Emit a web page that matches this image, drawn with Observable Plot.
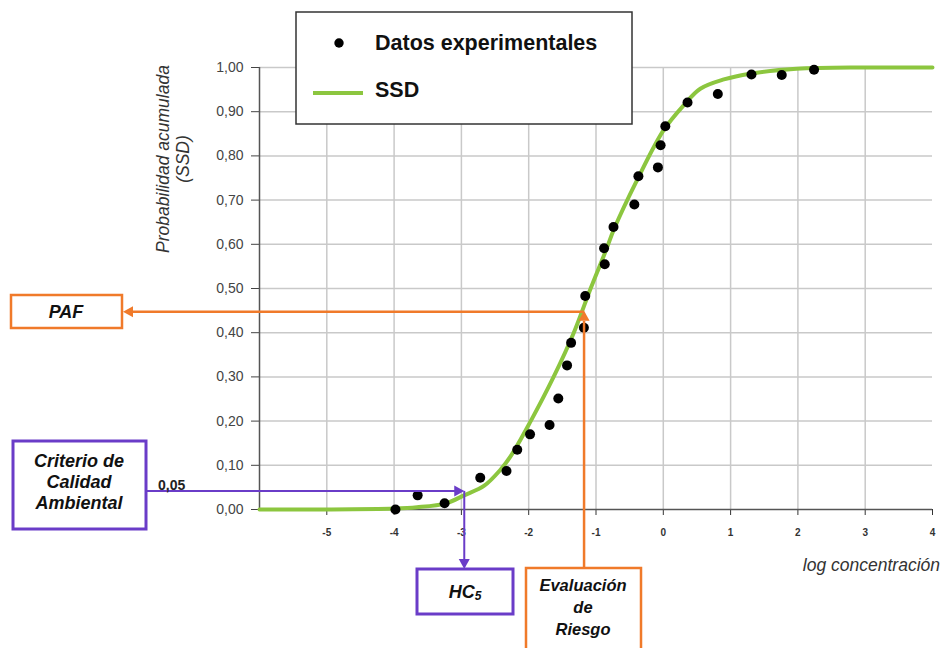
<!DOCTYPE html>
<html>
<head>
<meta charset="utf-8">
<script src="https://cdn.jsdelivr.net/npm/d3@7"></script>
<script src="https://cdn.jsdelivr.net/npm/@observablehq/plot@0.6"></script>
<style>
  html, body { margin: 0; padding: 0; background: #fff; }
  #chart { width: 942px; height: 648px; overflow: hidden; }
</style>
</head>
<body>
<div id="chart"></div>
<script>
// ---------- data ----------
const xTicks = [-5, -4, -3, -2, -1, 0, 1, 2, 3, 4];
const xGrid = [-5, -4, -3, -2, -1, 0, 1, 2, 3];
const yTicks = [0, 0.1, 0.2, 0.3, 0.4, 0.5, 0.6, 0.7, 0.8, 0.9, 1.0];
const yTickLabels = ["0,00", "0,10", "0,20", "0,30", "0,40", "0,50", "0,60", "0,70", "0,80", "0,90", "1,00"];

// experimental data (log concentration, cumulative probability)
const obsX = [-3.98, -3.65, -3.25, -2.72, -2.33, -2.17, -1.98, -1.69, -1.56, -1.43, -1.37, -1.18, -1.16,
              -0.87, -0.88, -0.74, -0.43, -0.37, -0.08, -0.04, 0.03, 0.36, 0.81, 1.31, 1.76, 2.24];
const obsY = [0.000, 0.032, 0.014, 0.072, 0.087, 0.135, 0.170, 0.191, 0.251, 0.326, 0.377, 0.411, 0.483,
              0.555, 0.591, 0.639, 0.690, 0.754, 0.774, 0.824, 0.867, 0.921, 0.940, 0.984, 0.983, 0.995];

// SSD curve
const ssdX = [-6.0, -5.0, -4.0, -3.66, -3.23, -2.96, -2.66, -2.42, -2.27, -1.97, -1.63, -1.33, -1.08,
              -0.85, -0.73, -0.39, 0.00, 0.30, 0.55, 0.90, 1.29, 1.98, 3.0, 4.0];
const ssdY = [0.000, 0.000, 0.002, 0.005, 0.014, 0.032, 0.054, 0.090, 0.120, 0.200, 0.300, 0.400, 0.500,
              0.587, 0.635, 0.745, 0.857, 0.914, 0.952, 0.973, 0.986, 0.997, 1.000, 1.000];

const legendLabels = ["Datos experimentales", "SSD"];
const xLabel = "log concentración";
const yLabelLines = ["Probabilidad acumulada", "(SSD)"];

// annotations
const pafY = 0.446;       // PAF
const riesgoX = -1.17;    // exposure concentration (risk evaluation)
const criterioY = 0.041;  // 0,05 criterion line
const hc5X = -2.95;       // HC5
const criterioLabel = "0,05";
const pafText = "PAF";
const criterioText = ["Criterio de", "Calidad", "Ambiental"];
const riesgoText = ["Evaluación", "de", "Riesgo"];

// ---------- build tables ----------
const obs = obsX.map((x, i) => ({x, y: obsY[i]}));
const ssd = ssdX.map((x, i) => ({x, y: ssdY[i]}));

const GREEN = "#8cc63f", ORANGE = "#f07a2a", PURPLE = "#6a3cc8";
const FONT = "'Liberation Sans', Arial, sans-serif";

const plot = Plot.plot({
  width: 942,
  height: 648,
  marginLeft: 259,
  marginRight: 10,
  marginTop: 67,
  marginBottom: 139,
  style: {fontFamily: FONT, background: "#fff", overflow: "visible"},
  x: {domain: [-6, 4], label: null},
  y: {domain: [0, 1], label: null},
  marks: [
    Plot.gridX(xGrid, {stroke: "#c9c9c9", strokeOpacity: 1, strokeWidth: 1.5}),
    Plot.gridY(yTicks.slice(1), {stroke: "#c9c9c9", strokeOpacity: 1, strokeWidth: 1.5}),
    Plot.axisX(xTicks, {tickSize: 6, tickPadding: 13, fontSize: 10, fontWeight: "bold",
      color: "#333", tickFormat: d => String(d), label: null}),
    Plot.axisY(yTicks, {tickSize: 8, tickPadding: 8, fontSize: 14, color: "#444",
      tickFormat: d => yTickLabels[yTicks.indexOf(d)], label: null}),
    Plot.ruleX([-6], {stroke: "#555", strokeWidth: 1.5}),
    Plot.ruleY([0], {stroke: "#555", strokeWidth: 1.5}),
    Plot.line(ssd, {x: "x", y: "y", stroke: GREEN, strokeWidth: 4, curve: "catmull-rom"}),
    Plot.dot(obs, {x: "x", y: "y", r: 5, fill: "#000", stroke: "none"})
  ]
});

document.getElementById("chart").appendChild(plot);

// ---------- annotations (using Plot's scales) ----------
const xs = plot.scale("x"), ys = plot.scale("y");
const svg = d3.select(plot);
const g = svg.append("g").attr("font-family", FONT);

function head(tx, ty, dir, color) {
  const L = 10, W = 5.5;
  let pts;
  if (dir === "left") pts = [[tx, ty], [tx + L, ty - W], [tx + L, ty + W]];
  if (dir === "right") pts = [[tx, ty], [tx - L, ty - W], [tx - L, ty + W]];
  if (dir === "up") pts = [[tx, ty], [tx - W, ty + L], [tx + W, ty + L]];
  if (dir === "down") pts = [[tx, ty], [tx - W, ty - L], [tx + W, ty - L]];
  g.append("polygon").attr("points", pts.map(p => p.join(",")).join(" ")).attr("fill", color);
}
function line(x1, y1, x2, y2, color, w) {
  g.append("line").attr("x1", x1).attr("y1", y1).attr("x2", x2).attr("y2", y2)
    .attr("stroke", color).attr("stroke-width", w);
}
function box(x, y, w, h, color, sw) {
  g.append("rect").attr("x", x).attr("y", y).attr("width", w).attr("height", h)
    .attr("fill", "#fff").attr("stroke", color).attr("stroke-width", sw);
}
function label(x, y, txt, size, opts = {}) {
  const t = g.append("text").attr("x", x).attr("y", y).attr("font-size", size)
    .attr("text-anchor", opts.anchor || "middle").attr("dominant-baseline", "central")
    .attr("fill", opts.fill || "#111")
    .attr("font-weight", opts.weight || "bold").attr("font-style", opts.style || "italic")
    .text(txt);
  return t;
}

const px = xs.apply(riesgoX), py = ys.apply(pafY);
const hx = xs.apply(hc5X), cy = ys.apply(criterioY);

// orange: Evaluación de Riesgo -> curve -> PAF
line(px, 568, px, py + 9, ORANGE, 2.5);
head(px, py - 1, "up", ORANGE);
line(px, py, 132, py, ORANGE, 2.5);
head(123, py, "left", ORANGE);

// purple: Criterio -> curve -> HC5
line(146, cy, hx - 9, cy, PURPLE, 2);
head(hx, cy, "right", PURPLE);
line(hx, cy, hx, 560, PURPLE, 2);
head(hx, 569, "down", PURPLE);

label(158, cy - 6, criterioLabel, 14, {anchor: "start", style: "normal", fill: "#222"});

// boxes
box(11, 295, 111, 33, ORANGE, 2.5);
label(66, 312, pafText, 18);

box(13, 441, 133, 88, PURPLE, 3);
criterioText.forEach((t, i) => label(79, 461 + i * 21, t, 18, {}));

box(417, 569, 96, 45, PURPLE, 3);
const hcT = label(465, 592, "HC", 18);
hcT.append("tspan").attr("font-size", 12).attr("dy", 4).text("5");

box(526, 568, 115, 100, ORANGE, 2.5);
riesgoText.forEach((t, i) => label(583, 585 + i * 22, t, 16.5, {}));

// axis titles
label(940, 565, xLabel, 17.5, {anchor: "end", weight: "normal", fill: "#333"});
yLabelLines.forEach((t, i) => {
  g.append("text").attr("transform", `translate(${163 + i * 20},159) rotate(-90)`)
    .attr("text-anchor", "middle").attr("dominant-baseline", "central")
    .attr("font-size", 17.5).attr("font-style", "italic").attr("fill", "#333").text(t);
});

// legend
g.append("rect").attr("x", 296).attr("y", 12).attr("width", 336).attr("height", 112)
  .attr("fill", "#fff").attr("stroke", "#333").attr("stroke-width", 1.5);
g.append("circle").attr("cx", 339).attr("cy", 43).attr("r", 4.7).attr("fill", "#000");
line(313, 93, 363, 93, GREEN, 4);
legendLabels.forEach((t, i) => label(375, 43 + i * 47, t, 21.5, {anchor: "start", style: "normal", fill: "#111"}));
</script>
</body>
</html>
